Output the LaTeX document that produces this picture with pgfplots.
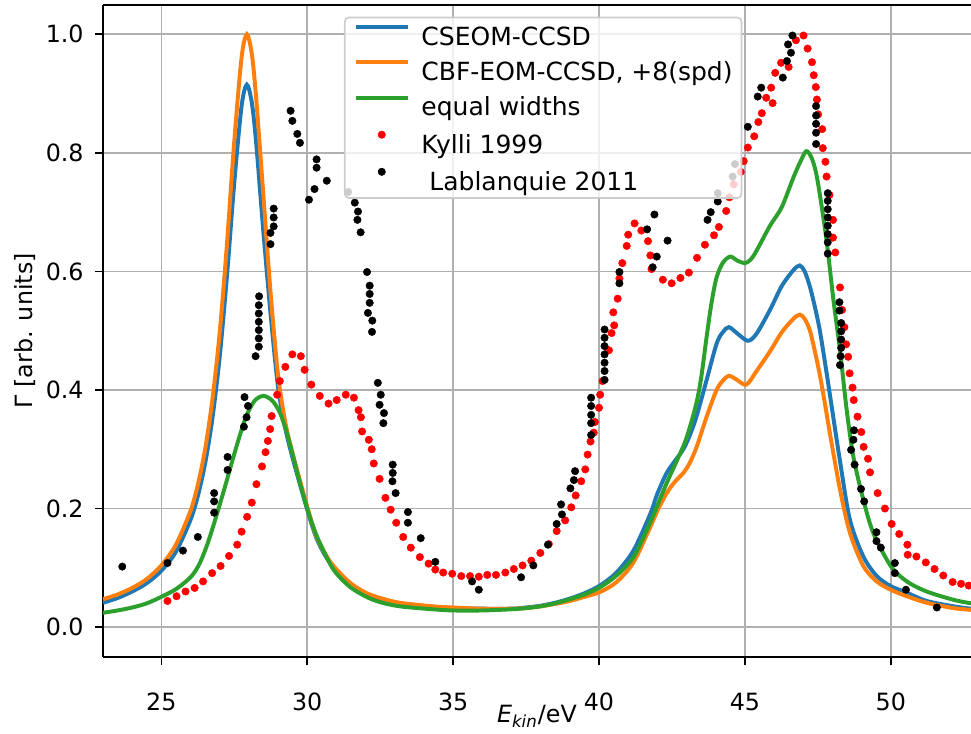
\documentclass[border=0pt]{standalone}
\usepackage{fontspec}
\setmainfont{DejaVu Sans}
\usepackage{pgfplots}
\usepackage{pgfplotstable}
\pgfplotsset{compat=1.18}
\definecolor{mplblue}{HTML}{1F77B4}
\definecolor{mplorange}{HTML}{FF7F0E}
\definecolor{mplgreen}{HTML}{2CA02C}
\definecolor{gridgray}{HTML}{B0B0B0}
\definecolor{leggray}{HTML}{CCCCCC}
\pgfplotsset{
  linelegend/.style={legend image code/.code={\draw[##1] (0pt,4.4pt) -- (25pt,4.4pt);}},
  dotlegend/.style={legend image code/.code={\path[##1, fill opacity=1] plot coordinates {(12.5pt,4.4pt)};}},
}

\pgfplotstableread{
x y
23.0 0.041
23.5 0.049
24.0 0.060
24.5 0.074
25.0 0.095
25.5 0.127
26.0 0.181
26.25 0.221
26.5 0.276
26.75 0.352
27.0 0.456
27.25 0.593
27.5 0.750
27.75 0.879
27.93 0.915
28.1 0.885
28.25 0.817
28.5 0.665
28.75 0.525
29.0 0.405
29.25 0.335
29.5 0.285
30.0 0.198
30.3 0.152
30.6 0.122
30.9 0.101
31.46 0.074
32.0 0.057
32.5 0.048
33.17 0.040
34.3 0.034
35.0 0.032
36.0 0.031
37.0 0.031
37.5 0.033
38.0 0.036
38.5 0.041
39.0 0.048
39.5 0.057
40.03 0.070
40.6 0.092
41.18 0.129
41.75 0.190
42.0 0.225
42.32 0.260
42.6 0.280
42.89 0.300
43.1 0.322
43.34 0.355
43.69 0.417
44.03 0.478
44.25 0.498
44.45 0.506
44.7 0.497
45.1 0.483
45.4 0.495
45.86 0.535
46.26 0.575
46.66 0.602
46.88 0.610
47.05 0.600
47.23 0.574
47.4 0.540
47.57 0.500
47.75 0.445
47.92 0.390
48.26 0.280
48.6 0.181
49.06 0.119
49.52 0.086
50.0 0.069
50.55 0.058
51.23 0.044
52.15 0.035
52.75 0.031
}\cseom

\pgfplotstableread{
x y
23.0 0.047
23.5 0.055
24.0 0.066
24.5 0.081
25.0 0.104
25.5 0.139
26.0 0.196
26.25 0.240
26.5 0.300
26.75 0.384
27.0 0.497
27.25 0.647
27.5 0.820
27.75 0.961
27.93 1.000
28.1 0.967
28.25 0.892
28.5 0.726
28.75 0.560
29.0 0.425
29.25 0.345
29.5 0.293
30.0 0.203
30.3 0.155
30.6 0.125
30.9 0.103
31.46 0.075
32.0 0.058
32.5 0.049
33.17 0.041
34.3 0.035
35.0 0.033
36.0 0.031
37.0 0.031
37.5 0.032
38.0 0.035
38.5 0.039
39.0 0.044
39.5 0.051
40.03 0.059
40.6 0.076
41.18 0.109
41.75 0.168
42.0 0.196
42.32 0.226
42.6 0.245
42.89 0.260
43.1 0.276
43.34 0.303
43.69 0.355
44.03 0.400
44.25 0.416
44.45 0.424
44.7 0.418
45.05 0.409
45.4 0.432
45.86 0.465
46.26 0.497
46.66 0.520
46.88 0.527
47.05 0.520
47.23 0.500
47.4 0.465
47.57 0.425
47.75 0.375
47.92 0.325
48.26 0.232
48.6 0.159
49.06 0.103
49.52 0.077
50.0 0.063
50.55 0.052
51.23 0.041
52.15 0.032
52.75 0.029
}\cbf

\pgfplotstableread{
x y
23.0 0.024
23.5 0.028
24.0 0.033
24.5 0.040
25.0 0.051
25.5 0.064
26.0 0.084
26.3 0.106
26.6 0.143
26.9 0.190
27.2 0.240
27.47 0.287
27.7 0.325
27.92 0.357
28.2 0.382
28.5 0.390
28.8 0.382
29.06 0.362
29.3 0.328
29.52 0.287
29.75 0.243
30.0 0.200
30.2 0.170
30.43 0.142
30.9 0.097
31.46 0.068
32.03 0.051
32.5 0.042
33.17 0.035
34.3 0.030
35.0 0.028
36.0 0.028
37.0 0.030
37.5 0.032
38.0 0.035
38.5 0.040
39.0 0.047
39.5 0.055
40.03 0.067
40.6 0.087
41.18 0.118
41.75 0.176
42.32 0.243
42.89 0.305
43.1 0.335
43.34 0.378
43.5 0.420
43.69 0.490
43.85 0.545
44.03 0.590
44.25 0.615
44.5 0.625
44.75 0.618
45.0 0.614
45.2 0.620
45.4 0.635
45.86 0.677
46.26 0.708
46.66 0.758
46.9 0.785
47.11 0.803
47.3 0.790
47.45 0.764
47.6 0.720
47.8 0.652
48.04 0.550
48.26 0.467
48.49 0.366
48.72 0.287
49.06 0.215
49.4 0.159
50.0 0.103
50.55 0.077
51.23 0.060
52.15 0.046
52.75 0.040
}\equalw

\pgfplotstableread{
x y
25.21 0.044
25.52 0.052
25.83 0.060
26.14 0.066
26.43 0.077
26.74 0.091
27.03 0.103
27.32 0.120
27.60 0.139
27.75 0.161
27.94 0.186
28.10 0.210
28.26 0.241
28.45 0.271
28.57 0.295
28.65 0.314
28.73 0.334
28.78 0.356
28.97 0.392
29.06 0.415
29.25 0.439
29.49 0.460
29.78 0.457
29.91 0.434
30.14 0.409
30.43 0.390
30.73 0.377
31.01 0.383
31.32 0.392
31.60 0.387
31.76 0.366
31.84 0.354
31.88 0.330
32.11 0.316
32.21 0.300
32.28 0.276
32.48 0.250
32.68 0.218
32.86 0.198
33.05 0.176
33.29 0.152
33.55 0.134
33.86 0.118
34.16 0.107
34.39 0.097
34.66 0.092
34.97 0.090
35.28 0.086
35.58 0.086
35.88 0.085
36.17 0.088
36.47 0.088
36.79 0.092
37.08 0.098
37.38 0.104
37.68 0.112
37.99 0.125
38.28 0.140
38.55 0.162
38.84 0.180
39.05 0.202
39.20 0.222
39.39 0.246
39.53 0.266
39.61 0.291
39.71 0.313
39.82 0.328
39.86 0.346
40.00 0.370
40.04 0.392
40.12 0.415
40.34 0.467
40.43 0.496
40.52 0.509
40.49 0.531
40.64 0.554
40.70 0.588
40.80 0.614
40.95 0.643
41.00 0.662
41.22 0.681
41.45 0.669
41.68 0.651
41.76 0.627
41.80 0.604
42.19 0.586
42.49 0.580
42.79 0.589
43.08 0.598
43.36 0.623
43.63 0.645
43.94 0.661
44.11 0.675
44.36 0.702
44.47 0.725
44.62 0.747
44.86 0.768
44.96 0.786
45.10 0.809
45.32 0.828
45.46 0.852
45.58 0.867
45.73 0.893
45.90 0.910
45.95 0.884
46.04 0.935
46.24 0.952
46.50 0.945
46.75 0.990
47.01 0.998
47.15 0.976
47.30 0.953
47.36 0.931
47.43 0.911
47.47 0.890
47.51 0.865
47.65 0.840
47.67 0.808
47.76 0.785
47.80 0.760
47.90 0.729
48.02 0.687
48.02 0.657
48.10 0.632
48.26 0.573
48.33 0.535
48.41 0.506
48.47 0.477
48.54 0.456
48.59 0.428
48.69 0.404
48.73 0.383
48.86 0.355
48.99 0.329
49.07 0.304
49.22 0.284
49.29 0.261
49.55 0.226
49.80 0.200
50.03 0.174
50.29 0.157
50.57 0.139
50.58 0.122
50.88 0.119
51.20 0.109
51.50 0.098
51.80 0.087
52.12 0.076
52.41 0.073
52.67 0.070
}\kylli

\pgfplotstableread{
x y
23.66 0.102
25.21 0.108
25.74 0.129
26.25 0.152
26.81 0.193
26.81 0.212
26.81 0.226
27.27 0.265
27.27 0.287
27.83 0.338
27.92 0.354
27.97 0.373
27.85 0.388
28.23 0.457
28.34 0.473
28.34 0.487
28.34 0.501
28.34 0.515
28.34 0.529
28.34 0.543
28.35 0.558
28.74 0.646
28.74 0.665
28.85 0.676
28.85 0.691
28.85 0.706
29.43 0.871
29.49 0.854
29.66 0.832
29.75 0.817
30.06 0.721
30.25 0.739
30.32 0.775
30.32 0.789
30.67 0.753
31.40 0.734
31.63 0.716
31.74 0.701
31.72 0.687
31.83 0.666
32.05 0.599
32.14 0.576
32.14 0.562
32.14 0.547
32.08 0.530
32.23 0.517
32.22 0.498
32.42 0.412
32.52 0.392
32.48 0.375
32.63 0.361
32.61 0.344
32.93 0.274
32.93 0.260
32.92 0.246
33.03 0.226
33.45 0.194
33.45 0.176
33.89 0.150
34.39 0.110
35.65 0.077
35.88 0.063
37.33 0.084
37.75 0.104
38.25 0.139
38.55 0.174
38.73 0.190
38.70 0.207
39.02 0.234
39.14 0.248
39.18 0.263
39.73 0.324
39.73 0.344
39.73 0.358
39.73 0.373
39.73 0.387
40.19 0.417
40.19 0.432
40.19 0.446
40.19 0.460
40.19 0.474
40.19 0.488
40.19 0.502
40.70 0.580
40.70 0.599
41.65 0.671
41.90 0.696
41.84 0.607
41.98 0.625
42.35 0.652
43.72 0.687
43.83 0.700
44.07 0.718
44.07 0.732
44.58 0.760
44.66 0.781
45.10 0.844
45.44 0.895
45.56 0.910
46.30 0.927
46.44 0.955
46.58 0.969
46.48 0.983
46.63 0.998
47.44 0.879
47.44 0.863
47.44 0.849
47.44 0.834
47.44 0.815
47.84 0.732
47.84 0.719
47.84 0.705
47.84 0.691
47.84 0.677
47.84 0.663
47.84 0.649
47.84 0.630
48.24 0.548
48.24 0.534
48.30 0.513
48.30 0.499
48.30 0.485
48.30 0.471
48.28 0.457
48.26 0.442
48.74 0.332
48.72 0.316
48.64 0.299
48.76 0.274
48.98 0.233
49.09 0.212
49.51 0.160
49.51 0.145
49.66 0.134
50.14 0.108
50.14 0.091
50.52 0.063
51.58 0.033
}\lablanquie

\begin{document}
\begin{tikzpicture}
\begin{axis}[
  scale only axis,
  width=416.64pt, height=312.96pt,
  xmin=23, xmax=52.75, ymin=-0.05, ymax=1.05,
  axis x line*=box, axis y line*=left,
  axis line style={black, line width=0.8pt},
  xtick={25,30,35,40,45,50},
  ytick={0,0.2,0.4,0.6,0.8,1.0},
  yticklabels={0.0,0.2,0.4,0.6,0.8,1.0},
  tick pos=left,
  tick align=outside,
  major tick length=3.8pt,
  tick style={black, line width=0.8pt},
  grid=major,
  major grid style={gridgray, line width=0.8pt},
  /pgf/number format/assume math mode=true,
  tick label style={font=\fontsize{11.4}{13.7}\selectfont},
  xticklabel shift=10pt,
  yticklabel shift=2pt,
  ylabel={Γ [arb. units]},
  every axis y label/.style={at={(axis description cs:0,0.5)}, xshift=-37.4pt, rotate=90, anchor=center, font=\fontsize{11.4}{13.7}\selectfont},
  legend cell align=left,
  legend style={at={(0.2776,0.9816)}, anchor=north west,
    font=\fontsize{12}{14.4}\selectfont,
    draw=leggray, line width=0.8pt, fill=white, fill opacity=0.8, text opacity=1,
    rounded corners=2pt,
    inner xsep=4.3pt, inner ysep=3.6pt,
    row sep=7pt, column sep=5.6pt,
    nodes={inner sep=0pt, text height=9pt, text depth=0.2pt}},
  linelegend,
]
\addplot[mplblue, line width=1.9pt, smooth, tension=0.5] table[x=x,y=y] {\cseom};
\addlegendentry{CSEOM-CCSD}
\addplot[mplorange, line width=1.9pt, smooth, tension=0.5] table[x=x,y=y] {\cbf};
\addlegendentry{CBF-EOM-CCSD, +8(spd)}
\addplot[mplgreen, line width=1.9pt, smooth, tension=0.5] table[x=x,y=y] {\equalw};
\addlegendentry{equal widths}
\addplot[only marks, mark=*, mark size=1.8pt, mark options={fill=red, draw=red, line width=0.2pt}, dotlegend]
  table[x=x,y=y] {\kylli};
\addlegendentry{Kylli 1999}
\addplot[only marks, mark=*, mark size=1.8pt, mark options={fill=black, draw=black, line width=0.2pt}, dotlegend]
  table[x=x,y=y] {\lablanquie};
\addlegendentry{\ Lablanquie 2011}
\end{axis}
\node[anchor=center, inner sep=0pt, font=\fontsize{11.4}{13.7}\selectfont] at ([xshift=208.3pt, yshift=-28.5pt]current axis.south west) {\textit{E}\textsubscript{\textit{kin}}/eV};
\pgfresetboundingbox
\path[use as bounding box] ([xshift=-49.44pt,yshift=-37.1pt]current axis.south west) rectangle ([yshift=2.26pt]current axis.north east);
\end{tikzpicture}
\end{document}
